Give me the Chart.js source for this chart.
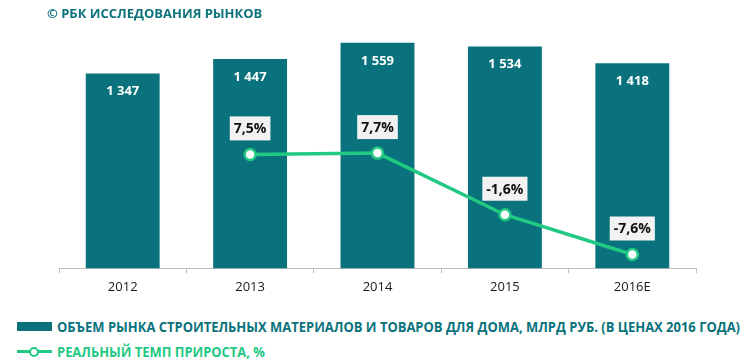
<!DOCTYPE html>
<html>
<head>
<meta charset="utf-8">
<script src="https://cdn.jsdelivr.net/npm/chart.js@4.4.0/dist/chart.umd.min.js"></script>
<style>
    body { margin: 0; background: #fff; }
    #wrap { position: relative; width: 750px; height: 361px; overflow: hidden; }
    #title { position: absolute; left: 47px; top: 4px; font: bold 13px "Open Sans", sans-serif; color: #0d727c; }
    #chartBox { position: absolute; left: 0; top: 0; width: 750px; height: 305px; }
    .legend-row { position: absolute; left: 17px; height: 16px; display: flex; align-items: center; font: bold 14px "Open Sans", sans-serif; white-space: nowrap; }
    .legend-row span { display: inline-block; transform-origin: left center; }
    .swatch-bar { width: 35px; height: 9px; background: #0a727c; margin-right: 5px; flex: none; }
    .swatch-line { position: relative; width: 35px; height: 9px; margin-right: 5px; flex: none; }
    .swatch-line .ln { position: absolute; left: 0; top: 3px; width: 35px; height: 3px; background: #22c983; }
    .swatch-line .dot { position: absolute; left: 12px; top: 0; width: 6px; height: 6px; border: 2px solid #22c983; border-radius: 50%; background: #fff; }
</style>
</head>
<body>
<div id="wrap">
    <div id="chartBox"><canvas id="marketChart"></canvas></div>
    <div id="title">© РБК ИССЛЕДОВАНИЯ РЫНКОВ</div>
    <div class="legend-row" style="top:318px; color:#0a727c;"><div class="swatch-bar"></div><span id="legBarText"></span></div>
    <div class="legend-row" style="top:343px; color:#22c983;"><div class="swatch-line"><div class="ln"></div><div class="dot"></div></div><span id="legLineText"></span></div>
</div>
<script>
var years = ['2012', '2013', '2014', '2015', '2016E'];
var marketVolume = [1347, 1447, 1559, 1534, 1418];
var growthRate = [null, 7.5, 7.7, -1.6, -7.6];
var barLabel = 'ОБЪЕМ РЫНКА СТРОИТЕЛЬНЫХ МАТЕРИАЛОВ И ТОВАРОВ ДЛЯ ДОМА, МЛРД РУБ. (В ЦЕНАХ 2016 ГОДА)';
var lineLabel = 'РЕАЛЬНЫЙ ТЕМП ПРИРОСТА, %';

var TEAL = '#0a727c';
var GREEN = '#22c983';

// legend text is a condensed face in the original; squeeze to fit
function fitText(id, text, width) {
    var el = document.getElementById(id);
    el.textContent = text;
    var w = el.getBoundingClientRect().width;
    if (w > 0) el.style.transform = 'scaleX(' + (width / w) + ')';
}
fitText('legBarText', barLabel, 683);
fitText('legLineText', lineLabel, 208);

function formatVolume(v) {
    var s = String(v);
    return s.length > 3 ? s.slice(0, s.length - 3) + ' ' + s.slice(-3) : s;
}

function formatRate(v) {
    return v.toFixed(1).replace('.', ',') + '%';
}

// value labels: white inside bar tops, boxed above line points
var valueLabels = {
    id: 'valueLabels',
    afterDatasetsDraw: function(chart) {
        var ctx = chart.ctx;
        ctx.save();
        ctx.textAlign = 'center';
        ctx.textBaseline = 'middle';

        var bars = chart.getDatasetMeta(0).data;
        ctx.font = 'bold 13px "Open Sans", sans-serif';
        ctx.fillStyle = '#ffffff';
        for (var i = 0; i < bars.length; i++) {
            ctx.fillText(formatVolume(marketVolume[i]), bars[i].x, bars[i].y + 18);
        }

        var pts = chart.getDatasetMeta(1).data;
        ctx.font = 'bold 14px "Open Sans", sans-serif';
        for (var j = 0; j < pts.length; j++) {
            if (growthRate[j] === null) continue;
            var txt = formatRate(growthRate[j]);
            var w = ctx.measureText(txt).width + 8;
            var cy = pts[j].y - 26;
            ctx.fillStyle = '#f2f2f2';
            ctx.fillRect(pts[j].x - w / 2, cy - 12, w, 24);
            ctx.fillStyle = '#111111';
            ctx.fillText(txt, pts[j].x, cy + 1);
        }
        ctx.restore();
    }
};

new Chart(document.getElementById('marketChart'), {
    type: 'bar',
    data: {
        labels: years,
        datasets: [{
            type: 'bar',
            label: barLabel,
            data: marketVolume,
            backgroundColor: TEAL,
            barPercentage: 0.58,
            categoryPercentage: 1,
            yAxisID: 'y',
            order: 2
        }, {
            type: 'line',
            label: lineLabel,
            data: growthRate,
            borderColor: GREEN,
            borderWidth: 3.5,
            pointRadius: 5.5,
            pointBorderWidth: 2.5,
            pointBackgroundColor: '#ffffff',
            pointBorderColor: GREEN,
            spanGaps: false,
            tension: 0,
            yAxisID: 'y1',
            order: 1
        }]
    },
    options: {
        responsive: true,
        maintainAspectRatio: false,
        animation: false,
        layout: { padding: { left: 59, right: 54, top: 7, bottom: 4 } },
        plugins: {
            legend: { display: false },
            tooltip: { enabled: false }
        },
        scales: {
            x: {
                offset: true,
                grid: { display: true, drawOnChartArea: false, drawTicks: true, tickLength: 5, color: '#bfbfbf', offset: true },
                border: { display: true, color: '#bfbfbf', width: 1 },
                ticks: { color: '#1a1a1a', font: { family: '"Open Sans", sans-serif', size: 13 }, padding: 6 }
            },
            y: { display: false, min: 0, max: 1800 },
            y1: { display: false, min: -9.7, max: 29.6 }
        }
    },
    plugins: [valueLabels]
});
</script>
</body>
</html>
